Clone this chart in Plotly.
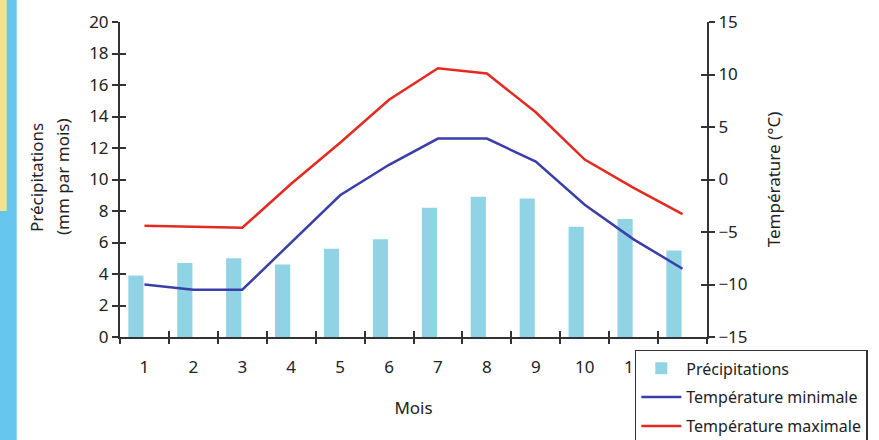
import plotly.graph_objects as go

months = [1, 2, 3, 4, 5, 6, 7, 8, 9, 10, 11, 12]
month_labels = ["1", "2", "3", "4", "5", "6", "7", "8", "9", "10", "11", "12"]
precip = [3.9, 4.7, 5.0, 4.6, 5.6, 6.2, 8.2, 8.9, 8.8, 7.0, 7.5, 5.5]
tmin = [-10.0, -10.5, -10.5, -6.0, -1.5, 1.4, 3.9, 3.9, 1.7, -2.4, -5.7, -8.5]
tmax = [-4.4, -4.5, -4.6, -0.4, 3.5, 7.6, 10.6, 10.1, 6.4, 1.9, -0.8, -3.3]
boundaries = [m - 0.5 for m in months] + [months[-1] + 0.5]

FONT = "Noto Sans"
AX = "#333333"

fig = go.Figure()
fig.add_trace(go.Bar(x=months, y=precip, name="Précipitations", marker_color="#8fd3e4",
                     marker_line_width=0, width=0.31, offset=-0.33, legendgroup="a"))
fig.add_trace(go.Scatter(x=months, y=tmin, name="Température minimale", yaxis="y2",
                         mode="lines", line=dict(color="#3a3fa8", width=2.5), legendgroup="b"))
fig.add_trace(go.Scatter(x=months, y=tmax, name="Température maximale", yaxis="y2",
                         mode="lines", line=dict(color="#e42a1f", width=2.5), legendgroup="c"))

tickfont = dict(family=FONT, size=17, color="#222")
titlefont = dict(family=FONT, size=17, color="#222")

fig.update_layout(
    width=879, height=440,
    margin=dict(l=120, r=172, t=22, b=103, autoexpand=False),
    paper_bgcolor="white", plot_bgcolor="white",
    font=dict(family=FONT, color="#222"),
    showlegend=True,
    barmode="overlay",
    xaxis=dict(range=[0.5, 12.5], tickmode="array", tickvals=months, ticktext=month_labels,
               ticks="outside", ticklen=14, tickcolor="rgba(0,0,0,0)",
               tickfont=tickfont, showgrid=False, zeroline=False,
               showline=True, linecolor=AX, linewidth=2,
               title=dict(text="Mois", font=titlefont, standoff=25)),
    xaxis2=dict(range=[0.5, 12.5], overlaying="x", anchor="y", tickmode="array",
                tickvals=boundaries, showticklabels=False, ticks="outside", ticklen=6,
                tickwidth=2, tickcolor=AX, showgrid=False, zeroline=False, showline=False),
    xaxis3=dict(range=[0.5, 12.5], overlaying="x", anchor="y", tickmode="array",
                tickvals=boundaries, showticklabels=False, ticks="inside", ticklen=6,
                tickwidth=2, tickcolor=AX, showgrid=False, zeroline=False, showline=False),
    yaxis=dict(range=[0, 20], dtick=2, ticks="outside", ticklen=6, tickwidth=2, tickcolor=AX,
               tickfont=tickfont, showgrid=False, zeroline=False,
               showline=True, linecolor=AX, linewidth=2),
    yaxis3=dict(range=[0, 20], dtick=2, overlaying="y", anchor="x", side="left",
                ticks="inside", ticklen=6, tickwidth=2, tickcolor=AX, showticklabels=False,
                showgrid=False, zeroline=False, showline=False),
    yaxis2=dict(range=[-15, 15], dtick=5, overlaying="y", side="right", anchor="x",
                ticks="outside", ticklen=6, tickwidth=2, tickcolor=AX, tickfont=tickfont,
                showgrid=False, zeroline=False, showline=True, linecolor=AX, linewidth=2,
                title=dict(text="Température (°C)", font=titlefont, standoff=22)),
    yaxis4=dict(range=[-15, 15], dtick=5, overlaying="y", side="right", anchor="x",
                ticks="inside", ticklen=6, tickwidth=2, tickcolor=AX, showticklabels=False,
                showgrid=False, zeroline=False, showline=False),
    legend=dict(x=0.877, y=-0.041, xanchor="left", yanchor="top",
                bgcolor="white", bordercolor=AX, borderwidth=1.5,
                font=dict(family=FONT, size=16, color="#222"),
                itemwidth=40, entrywidth=240,
                tracegroupgap=5, traceorder="grouped"),
    annotations=[
        dict(text="Précipitations", xref="paper", yref="paper", x=-0.1414, y=0.508,
             xanchor="center", yanchor="middle",
             textangle=-90, showarrow=False, font=titlefont),
        dict(text="(mm par mois)", xref="paper", yref="paper", x=-0.0971, y=0.508,
             xanchor="center", yanchor="middle",
             textangle=-90, showarrow=False, font=titlefont),
    ],
    shapes=[
        dict(type="rect", xref="paper", yref="paper", x0=-0.2044, x1=-0.176,
             y0=-0.33, y1=1.08, fillcolor="#66c6ee", line_width=0, layer="below"),
        dict(type="rect", xref="paper", yref="paper", x0=-0.2044, x1=-0.193,
             y0=0.4, y1=1.08, fillcolor="#f1e48e", line_width=0, layer="below"),
    ],
)

# invisible helpers so overlay axes render
fig.add_trace(go.Scatter(x=[None], y=[None], xaxis="x2", showlegend=False, hoverinfo="skip"))
fig.add_trace(go.Scatter(x=[None], y=[None], xaxis="x3", yaxis="y3", showlegend=False, hoverinfo="skip"))
fig.add_trace(go.Scatter(x=[None], y=[None], yaxis="y4", showlegend=False, hoverinfo="skip"))

fig.write_html("out.html", config={"displayModeBar": False},
               post_script="document.body.style.margin='0';document.body.style.overflow='hidden';")
